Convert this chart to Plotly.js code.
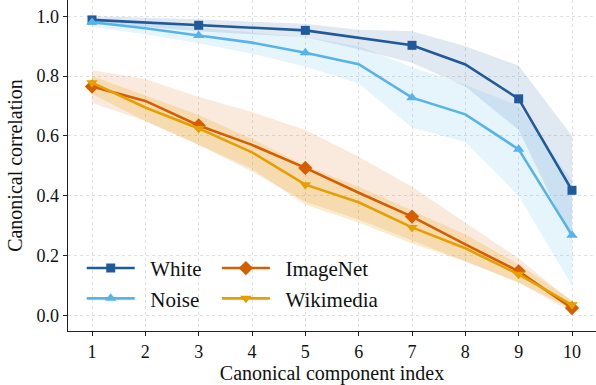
<!DOCTYPE html>
<html>
<head>
<meta charset="utf-8">
<script src="https://cdn.plot.ly/plotly-3.0.1.min.js"></script>
<style>html,body{margin:0;padding:0;background:#fff;}#chart{width:596px;height:385px;}</style>
</head>
<body>
<div id="chart"></div>
<script>
// ---- data ----
const componentIndex = [1, 2, 3, 4, 5, 6, 7, 8, 9, 10];
const markedIndex = [1, 3, 5, 7, 9, 10];

const whiteMean  = [0.988, 0.980, 0.970, 0.962, 0.953, 0.928, 0.903, 0.839, 0.724, 0.418];
const whiteUpper = [1.000, 0.995, 0.990, 0.982, 0.975, 0.955, 0.950, 0.900, 0.835, 0.600];
const whiteLower = [0.975, 0.965, 0.950, 0.940, 0.930, 0.890, 0.845, 0.765, 0.620, 0.250];

const noiseMean  = [0.980, 0.960, 0.936, 0.912, 0.878, 0.840, 0.728, 0.672, 0.555, 0.268];
const noiseUpper = [0.990, 0.978, 0.962, 0.945, 0.930, 0.900, 0.830, 0.770, 0.700, 0.450];
const noiseLower = [0.965, 0.940, 0.910, 0.875, 0.832, 0.775, 0.628, 0.580, 0.400, 0.100];

const imagenetMean  = [0.765, 0.717, 0.635, 0.570, 0.493, 0.410, 0.330, 0.237, 0.147, 0.024];
const imagenetUpper = [0.820, 0.790, 0.730, 0.680, 0.620, 0.530, 0.430, 0.310, 0.190, 0.045];
const imagenetLower = [0.710, 0.650, 0.570, 0.480, 0.380, 0.320, 0.250, 0.180, 0.110, 0.010];

const wikiMean  = [0.778, 0.695, 0.625, 0.545, 0.437, 0.378, 0.294, 0.224, 0.137, 0.035];
const wikiUpper = [0.800, 0.735, 0.670, 0.590, 0.500, 0.430, 0.350, 0.270, 0.170, 0.050];
const wikiLower = [0.740, 0.650, 0.570, 0.490, 0.370, 0.310, 0.240, 0.180, 0.110, 0.020];

const seriesNames = ['White', 'Noise', 'ImageNet', 'Wikimedia'];
const xTickLabels = ['1','2','3','4','5','6','7','8','9','10'];
const yTickVals = [0.0, 0.2, 0.4, 0.6, 0.8, 1.0];
const yTickLabels = ['0.0','0.2','0.4','0.6','0.8','1.0'];

// ---- build ----
const series = [
  {name:seriesNames[0], mean:whiteMean, up:whiteUpper, lo:whiteLower, color:'#215a9b', band:'rgba(33,90,155,0.14)', symbol:'square', size:9, legend:'legend'},
  {name:seriesNames[1], mean:noiseMean, up:noiseUpper, lo:noiseLower, color:'#56b4e9', band:'rgba(86,180,233,0.15)', symbol:'triangle-up', size:10, legend:'legend'},
  {name:seriesNames[2], mean:imagenetMean, up:imagenetUpper, lo:imagenetLower, color:'#d55e00', band:'rgba(213,94,0,0.13)', symbol:'diamond', size:11, legend:'legend2'},
  {name:seriesNames[3], mean:wikiMean, up:wikiUpper, lo:wikiLower, color:'#e69f00', band:'rgba(230,159,0,0.20)', symbol:'triangle-down', size:10, legend:'legend2'}
];

const traces = [];
series.forEach(s => {
  traces.push({
    x: componentIndex.concat(componentIndex.slice().reverse()),
    y: s.up.concat(s.lo.slice().reverse()),
    type:'scatter', mode:'lines', fill:'toself', fillcolor:s.band,
    line:{width:0, color:'rgba(0,0,0,0)'}, hoverinfo:'skip', showlegend:false
  });
});
series.forEach(s => {
  traces.push({
    x: componentIndex, y: s.mean, name: '\u00a0\u00a0' + s.name, legend: s.legend,
    type:'scatter', mode:'lines+markers',
    line:{color:s.color, width:2.6},
    marker:{symbol:s.symbol, size:s.size,
      color: componentIndex.map(i => markedIndex.includes(i) ? s.color : 'rgba(0,0,0,0)')}
  });
});

const FAM = 'Liberation Serif, Times New Roman, serif';
const layout = {
  width:596, height:385,
  margin:{l:68, r:0, t:0, b:54},
  paper_bgcolor:'#fff', plot_bgcolor:'#fff',
  font: {family:FAM, color:'#111'},
  showlegend:true,
  xaxis:{
    range:[0.55, 10.45], tickvals:componentIndex, ticktext:xTickLabels,
    showline:true, linecolor:'#222', linewidth:1.3, mirror:false,
    ticks:'outside', ticklen:4, tickcolor:'#222', tickwidth:1,
    showgrid:true, gridcolor:'#e0e0e0', griddash:'dot', gridwidth:1,
    zeroline:false, tickfont:{family:FAM, size:18, color:'#111'},
    title:{text:'Canonical component index', font:{family:FAM, size:20, color:'#111'}, standoff:6}
  },
  yaxis:{
    range:[-0.0526, 1.0546], tickvals:yTickVals, ticktext:yTickLabels,
    showline:true, linecolor:'#222', linewidth:1.3, mirror:false,
    ticks:'outside', ticklen:4, tickcolor:'#222', tickwidth:1,
    showgrid:true, gridcolor:'#e0e0e0', griddash:'dot', gridwidth:1,
    zeroline:false, tickfont:{family:FAM, size:18, color:'#111'},
    title:{text:'Canonical correlation', font:{family:FAM, size:20, color:'#111'}, standoff:8}
  },
  legend:{x:0.026, y:0.251, xanchor:'left', yanchor:'top', bgcolor:'rgba(0,0,0,0)',
    font:{family:FAM, size:21, color:'#111'}, itemwidth:48, tracegroupgap:0},
  legend2:{x:0.282, y:0.251, xanchor:'left', yanchor:'top', bgcolor:'rgba(0,0,0,0)',
    font:{family:FAM, size:21, color:'#111'}, itemwidth:48, tracegroupgap:0}
};

Plotly.newPlot('chart', traces, layout, {displayModeBar:false, staticPlot:true});
</script>
</body>
</html>
